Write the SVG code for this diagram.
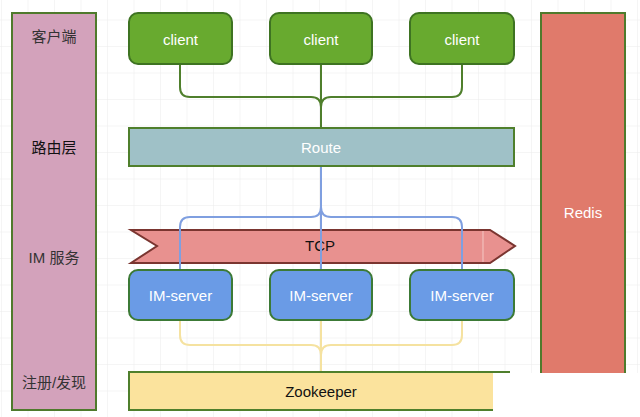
<svg xmlns="http://www.w3.org/2000/svg" width="640" height="417" viewBox="0 0 640 417">
<defs>
<pattern id="grid" width="26.5" height="26.5" patternUnits="userSpaceOnUse" x="2" y="-6">
<path d="M26.5 0V26.5M0 26.5H26.5" fill="none" stroke="#ececec" stroke-width="1"/>
</pattern>
<style>
.lbl{font-family:"Liberation Sans","Noto Sans CJK SC",sans-serif;font-size:15px;fill:#333;text-anchor:middle;dominant-baseline:central}
.wt{font-family:"Liberation Sans",Arial,sans-serif;font-size:15px;fill:#fff;text-anchor:middle;dominant-baseline:central}
.dk{font-family:"Liberation Sans",Arial,sans-serif;font-size:15px;fill:#111;text-anchor:middle;dominant-baseline:central}
.client{fill:#68aa2f;stroke:#3e7322;stroke-width:2}
.server{fill:#6a9be6;stroke:#3c7a36;stroke-width:2}
.g{fill:none;stroke:#4f7f2c;stroke-width:2}
.b{fill:none;stroke:#7f9fe0;stroke-width:2}
.y{fill:none;stroke:#f5e2a0;stroke-width:2}
</style>
</defs>
<rect width="640" height="417" fill="#fff"/>
<rect width="640" height="417" fill="url(#grid)"/>

<g id="layers">
<rect x="12" y="13" width="84" height="397" fill="#d3a2bb" stroke="#4f7a2c" stroke-width="2"/>
<text class="lbl" x="54" y="36">客户端</text>
<text class="lbl" x="54" y="147" style="fill:#111">路由层</text>
<text class="lbl" x="54" y="257">IM 服务</text>
<text class="lbl" x="54" y="382">注册/发现</text>
</g>

<g id="redis">
<rect x="541" y="13" width="84" height="370" fill="#e07a6b" stroke="#4f7a2c" stroke-width="2"/>
<text class="wt" x="583" y="212">Redis</text>
</g>

<g id="tcp">
<path d="M131 230H490L515 246L490 263H131L157 246Z" fill="#e8918f" stroke="#7a3530" stroke-width="2"/>
<line x1="483" y1="231" x2="483" y2="262" stroke="#f4c8c4" stroke-width="1"/>
<text class="dk" x="320" y="245">TCP</text>
</g>

<g id="connectors">
<path class="g" d="M180 64V87Q180 97 190 97H311Q321 97 321 107V128M321 64V128M462 64V87Q462 97 452 97H331Q321 97 321 107"/>
<path class="b" d="M321 166V270M321 207Q321 217 311 217H190Q180 217 180 227V270M321 207Q321 217 331 217H452Q462 217 462 227V270"/>
<path class="y" d="M180 320V335Q180 345 190 345H311Q321 345 321 355V372M321 320V372M462 320V335Q462 345 452 345H331Q321 345 321 355"/>
</g>

<g id="client1"><rect class="client" x="129" y="13" width="103" height="51" rx="9"/><text class="wt" x="180.500" y="39">client</text></g>
<g id="client2"><rect class="client" x="270" y="13" width="102" height="51" rx="9"/><text class="wt" x="321" y="39">client</text></g>
<g id="client3"><rect class="client" x="410" y="13" width="104" height="51" rx="9"/><text class="wt" x="462" y="39">client</text></g>

<g id="route"><rect x="129" y="128" width="385" height="38" fill="#9fc1c7" stroke="#4f7f2c" stroke-width="2"/><text class="wt" x="321" y="147">Route</text></g>

<g id="server1"><rect class="server" x="129" y="270" width="103" height="50" rx="9"/><text class="wt" x="180.500" y="295">IM-server</text></g>
<g id="server2"><rect class="server" x="270" y="270" width="102" height="50" rx="9"/><text class="wt" x="321" y="295">IM-server</text></g>
<g id="server3"><rect class="server" x="410" y="270" width="104" height="50" rx="9"/><text class="wt" x="462" y="295">IM-server</text></g>

<g id="zookeeper"><rect x="129" y="372" width="380" height="38" fill="#fbe39d" stroke="#4f7f2c" stroke-width="2"/><text class="dk" x="321" y="391">Zookeeper</text></g>

<rect x="493" y="373" width="147" height="44" fill="#fff"/>
</svg>
